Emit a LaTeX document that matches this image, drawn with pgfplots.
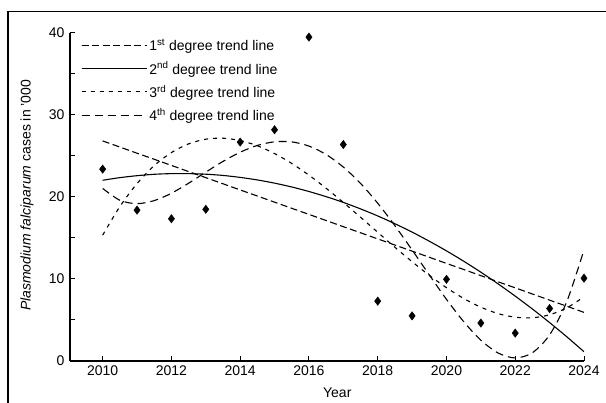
\documentclass[border=0pt]{standalone}
\usepackage{pgfplots}
\pgfplotsset{compat=1.18}
\usepackage{fontspec}
\setmainfont{Liberation Sans}
\pgfplotstableread{
year pf
2010 23.4
2011 18.4
2012 17.35
2013 18.5
2014 26.7
2015 28.2
2016 39.5
2017 26.4
2018 7.3
2019 5.5
2020 9.96
2021 4.63
2022 3.4
2023 6.4
2024 10.1
}\obs
\pgfplotstableread{
year L Q C F
2010.0 26.84 22.04 15.34 21.05
2010.5 26.09 22.36 18.83 19.60
2011.0 25.34 22.60 21.64 19.19
2011.5 24.60 22.77 23.83 19.56
2012.0 23.85 22.85 25.42 20.46
2012.5 23.10 22.85 26.48 21.68
2013.0 22.36 22.78 27.05 23.03
2013.5 21.61 22.63 27.17 24.34
2014.0 20.86 22.39 26.88 25.46
2014.5 20.12 22.08 26.25 26.29
2015.0 19.37 21.69 25.30 26.73
2015.5 18.62 21.22 24.09 26.72
2016.0 17.88 20.67 22.66 26.21
2016.5 17.13 20.04 21.06 25.18
2017.0 16.38 19.34 19.34 23.65
2017.5 15.64 18.55 17.53 21.66
2018.0 14.89 17.69 15.70 19.24
2018.5 14.14 16.74 13.87 16.50
2019.0 13.40 15.72 12.11 13.54
2019.5 12.65 14.61 10.45 10.50
2020.0 11.90 13.43 8.94 7.52
2020.5 11.16 12.17 7.63 4.80
2021.0 10.41 10.83 6.56 2.54
2021.5 9.66 9.41 5.78 0.98
2022.0 8.92 7.91 5.34 0.37
2022.5 8.17 6.34 5.27 1.01
2023.0 7.42 4.68 5.64 3.19
2023.5 6.68 2.95 6.48 7.25
2024.0 5.93 1.13 7.83 13.55
}\trend
\begin{document}
\begin{tikzpicture}
\useasboundingbox (-70bp,-42bp) rectangle (536bp,361bp);
\draw[line width=1.3bp] (-62bp,-42bp) -- (-62bp,349.3bp) -- (536bp,349.3bp);
\begin{axis}[
  at={(0,0)}, anchor=south west,
  scale only axis, width=514bp, height=328bp,
  xmin=2009.05, xmax=2024, ymin=0, ymax=40,
  axis lines*=left,
  axis line style={line width=1.2bp},
  tick align=inside,
  major tick length=5bp, minor tick length=5bp,
  tick style={line width=1bp, black},
  xtick={2010,2012,...,2024}, minor x tick num=1,
  ytick={0,10,...,40}, minor y tick num=1,
  /pgf/number format/assume math mode=true,
  /pgf/number format/1000 sep={},
  tick label style={font=\fontsize{14bp}{16bp}\selectfont},
  xticklabel style={yshift=-1bp},
  yticklabel style={xshift=-2bp},
  xlabel={Year},
  ylabel={\textit{Plasmodium falciparum} cases in '000},
  label style={font=\fontsize{14bp}{16bp}\selectfont},
  xlabel style={at={(axis description cs:0.52,0)}, anchor=center, yshift=-32bp},
  ylabel style={at={(axis description cs:-0.0837,0.505)}, anchor=center},
  legend style={at={(axis description cs:0,1)}, anchor=north west, xshift=8bp, yshift=-2bp,
    draw=none, fill=none, font=\fontsize{14bp}{16bp}\selectfont, row sep=5.5bp},
  legend cell align=left,
  legend image code/.code={\draw[#1] (0bp,0bp) -- (60bp,0bp); \path (0bp,0bp) -- (65bp,0bp);},
]
\addplot[only marks, mark=diamond*, mark size=4.2bp, black, forget plot] table[x=year,y=pf]{\obs};
\addplot[black, line width=1.1bp, dash pattern=on 7bp off 3.5bp] table[x=year,y=L]{\trend};
\addlegendentry{1\textsuperscript{st} degree trend line}
\addplot[black, line width=1.1bp, smooth] table[x=year,y=Q]{\trend};
\addlegendentry{2\textsuperscript{nd} degree trend line}
\addplot[black, line width=1.1bp, smooth, dash pattern=on 4bp off 5bp] table[x=year,y=C]{\trend};
\addlegendentry{3\textsuperscript{rd} degree trend line}
\addplot[black, line width=1.1bp, smooth, dash pattern=on 8bp off 5bp] table[x=year,y=F]{\trend};
\addlegendentry{4\textsuperscript{th} degree trend line}
\end{axis}
\end{tikzpicture}
\end{document}
